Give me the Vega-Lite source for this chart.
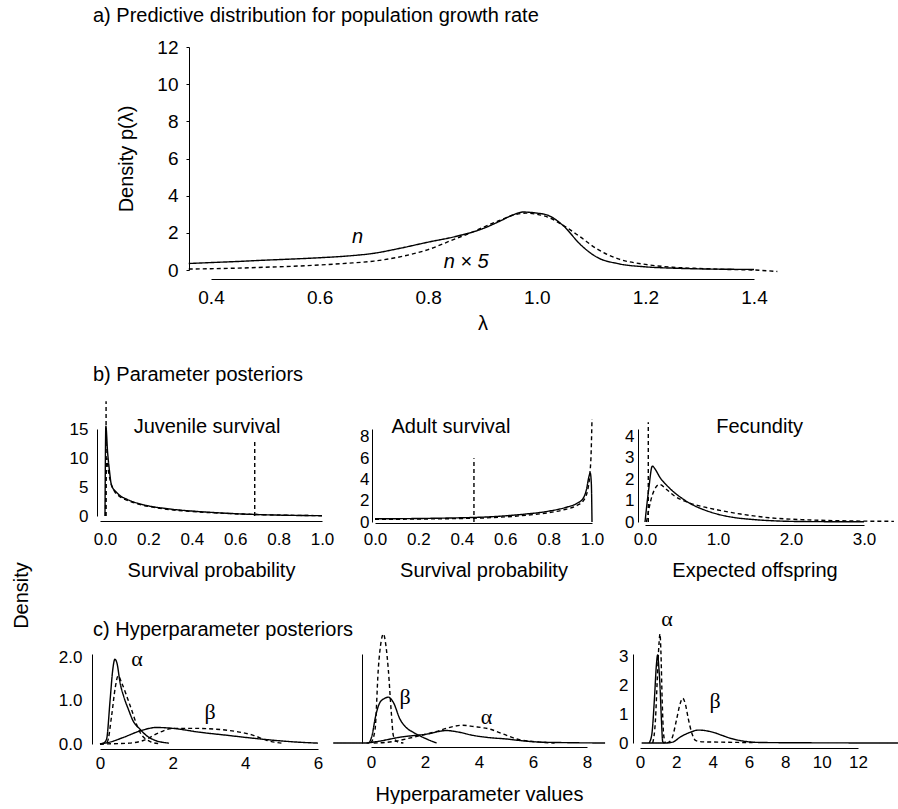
{
 "$schema": "https://vega.github.io/schema/vega-lite/v6.json",
 "autosize": {"type": "pad"},
 "padding": {"left": 11, "top": 6, "right": 0, "bottom": 0},
 "bounds": "flush",
 "spacing": 0,
 "config": {
  "font": "Liberation Sans",
  "view": {"stroke": null},
  "axis": {"domainColor": "#000", "tickColor": "#000", "labelColor": "#000", "titleColor": "#000", "labelFontSize": 17, "titleFontSize": 20, "titleFontWeight": "normal", "labelFlush": false, "labelOverlap": false, "grid": false, "ticks": false, "domainWidth": 1},
  "title": {"fontSize": 20, "fontWeight": "normal", "color": "#000", "anchor": "start", "frame": "group"},
  "text": {"color": "#000"}
 },
 "vconcat": [
  {
   "bounds": "flush",
   "spacing": 110,
   "hconcat": [
    {"width": 1, "height": 1, "data": {"values": []}, "mark": {"type": "point", "opacity": 0}},
    {
     "width": 543, "height": 223,
     "title": {"text": "a) Predictive distribution for population growth rate", "dx": -118, "offset": 12},
     "layer": [
      {
       "data": {"values": [
        {"x": 0.359, "y": 0.35, "s": "solid", "c": "n"}, {"x": 0.4, "y": 0.4, "s": "solid", "c": "n"}, {"x": 0.45, "y": 0.46, "s": "solid", "c": "n"}, {"x": 0.5, "y": 0.53, "s": "solid", "c": "n"}, {"x": 0.55, "y": 0.59, "s": "solid", "c": "n"}, {"x": 0.6, "y": 0.66, "s": "solid", "c": "n"}, {"x": 0.65, "y": 0.75, "s": "solid", "c": "n"}, {"x": 0.7, "y": 0.9, "s": "solid", "c": "n"}, {"x": 0.75, "y": 1.18, "s": "solid", "c": "n"}, {"x": 0.8, "y": 1.5, "s": "solid", "c": "n"}, {"x": 0.85, "y": 1.8, "s": "solid", "c": "n"}, {"x": 0.9, "y": 2.22, "s": "solid", "c": "n"}, {"x": 0.93, "y": 2.6, "s": "solid", "c": "n"}, {"x": 0.955, "y": 2.95, "s": "solid", "c": "n"}, {"x": 0.975, "y": 3.12, "s": "solid", "c": "n"}, {"x": 1.0, "y": 3.06, "s": "solid", "c": "n"}, {"x": 1.02, "y": 2.95, "s": "solid", "c": "n"}, {"x": 1.05, "y": 2.35, "s": "solid", "c": "n"}, {"x": 1.08, "y": 1.38, "s": "solid", "c": "n"}, {"x": 1.11, "y": 0.7, "s": "solid", "c": "n"}, {"x": 1.15, "y": 0.34, "s": "solid", "c": "n"}, {"x": 1.2, "y": 0.17, "s": "solid", "c": "n"}, {"x": 1.25, "y": 0.1, "s": "solid", "c": "n"}, {"x": 1.3, "y": 0.06, "s": "solid", "c": "n"}, {"x": 1.35, "y": 0.04, "s": "solid", "c": "n"}, {"x": 1.4, "y": 0.03, "s": "solid", "c": "n"},
        {"x": 0.359, "y": 0.05, "s": "dashed", "c": "n5"}, {"x": 0.4, "y": 0.07, "s": "dashed", "c": "n5"}, {"x": 0.45, "y": 0.1, "s": "dashed", "c": "n5"}, {"x": 0.5, "y": 0.15, "s": "dashed", "c": "n5"}, {"x": 0.55, "y": 0.2, "s": "dashed", "c": "n5"}, {"x": 0.6, "y": 0.27, "s": "dashed", "c": "n5"}, {"x": 0.65, "y": 0.36, "s": "dashed", "c": "n5"}, {"x": 0.7, "y": 0.48, "s": "dashed", "c": "n5"}, {"x": 0.75, "y": 0.72, "s": "dashed", "c": "n5"}, {"x": 0.8, "y": 1.1, "s": "dashed", "c": "n5"}, {"x": 0.85, "y": 1.68, "s": "dashed", "c": "n5"}, {"x": 0.88, "y": 2.02, "s": "dashed", "c": "n5"}, {"x": 0.9, "y": 2.28, "s": "dashed", "c": "n5"}, {"x": 0.93, "y": 2.65, "s": "dashed", "c": "n5"}, {"x": 0.96, "y": 2.98, "s": "dashed", "c": "n5"}, {"x": 0.98, "y": 3.06, "s": "dashed", "c": "n5"}, {"x": 1.0, "y": 3.0, "s": "dashed", "c": "n5"}, {"x": 1.02, "y": 2.85, "s": "dashed", "c": "n5"}, {"x": 1.05, "y": 2.38, "s": "dashed", "c": "n5"}, {"x": 1.08, "y": 1.78, "s": "dashed", "c": "n5"}, {"x": 1.11, "y": 1.15, "s": "dashed", "c": "n5"}, {"x": 1.15, "y": 0.6, "s": "dashed", "c": "n5"}, {"x": 1.2, "y": 0.3, "s": "dashed", "c": "n5"}, {"x": 1.25, "y": 0.15, "s": "dashed", "c": "n5"}, {"x": 1.3, "y": 0.08, "s": "dashed", "c": "n5"}, {"x": 1.35, "y": 0.03, "s": "dashed", "c": "n5"}, {"x": 1.4, "y": 0.0, "s": "dashed", "c": "n5"}, {"x": 1.443, "y": -0.08, "s": "dashed", "c": "n5"}
       ]},
       "mark": {"type": "line", "interpolate": "monotone", "strokeWidth": 1.4, "color": "#000"},
       "encoding": {
        "x": {"field": "x", "type": "quantitative", "scale": {"domain": [0.4, 1.4], "nice": false, "zero": false}, "axis": {"title": "λ", "values": [0.4, 0.6, 0.8, 1.0, 1.2, 1.4], "tickCount": 20, "format": ".1f", "offset": 9, "labelPadding": 9, "labelFontSize": 19, "titlePadding": 6}},
        "y": {"field": "y", "type": "quantitative", "scale": {"domain": [0, 12], "nice": false}, "axis": {"title": "Density p(λ)", "values": [0, 2, 4, 6, 8, 10, 12], "tickCount": 20, "format": "d", "offset": 22, "ticks": true, "tickSize": 3, "labelPadding": 8, "labelFontSize": 19, "titlePadding": 20}},
        "strokeDash": {"field": "s", "type": "nominal", "scale": {"domain": ["solid", "dashed"], "range": [[1, 0], [4, 3]]}, "legend": null},
        "detail": {"field": "c"}
       }
      },
      {
       "data": {"values": [{"x": 0.67, "y": 1.8, "t": "n"}, {"x": 0.87, "y": 0.45, "t": "n × 5"}]},
       "mark": {"type": "text", "fontSize": 20, "fontStyle": "italic"},
       "encoding": {"x": {"field": "x", "type": "quantitative"}, "y": {"field": "y", "type": "quantitative"}, "text": {"field": "t"}}
      }
     ]
    }
   ]
  },
  {"width": 1, "height": 382, "data": {"values": []}, "mark": {"type": "point", "opacity": 0}},
  {
   "bounds": "flush",
   "spacing": 53,
   "hconcat": [
    {
     "width": 222, "height": 87,
     "title": {"text": "b) Parameter posteriors", "dx": -7, "offset": 15},
     "layer": [
      {
       "data": {"values": [
        {"x": 0, "y": 0, "s": "solid", "c": "s"}, {"x": 0.004, "y": 15.5, "s": "solid", "c": "s"}, {"x": 0.012, "y": 11, "s": "solid", "c": "s"}, {"x": 0.02, "y": 8, "s": "solid", "c": "s"}, {"x": 0.03, "y": 5.3, "s": "solid", "c": "s"}, {"x": 0.05, "y": 4.2, "s": "solid", "c": "s"}, {"x": 0.07, "y": 3.5, "s": "solid", "c": "s"}, {"x": 0.1, "y": 2.9, "s": "solid", "c": "s"}, {"x": 0.15, "y": 2.2, "s": "solid", "c": "s"}, {"x": 0.2, "y": 1.75, "s": "solid", "c": "s"}, {"x": 0.3, "y": 1.2, "s": "solid", "c": "s"}, {"x": 0.4, "y": 0.85, "s": "solid", "c": "s"}, {"x": 0.5, "y": 0.6, "s": "solid", "c": "s"}, {"x": 0.6, "y": 0.4, "s": "solid", "c": "s"}, {"x": 0.7, "y": 0.25, "s": "solid", "c": "s"}, {"x": 0.8, "y": 0.15, "s": "solid", "c": "s"}, {"x": 0.9, "y": 0.09, "s": "solid", "c": "s"}, {"x": 1.0, "y": 0.05, "s": "solid", "c": "s"},
        {"x": 0.002, "y": 0, "s": "dashed", "c": "d"}, {"x": 0.008, "y": 10, "s": "dashed", "c": "d"}, {"x": 0.015, "y": 8, "s": "dashed", "c": "d"}, {"x": 0.025, "y": 6, "s": "dashed", "c": "d"}, {"x": 0.04, "y": 4.5, "s": "dashed", "c": "d"}, {"x": 0.07, "y": 3.3, "s": "dashed", "c": "d"}, {"x": 0.1, "y": 2.75, "s": "dashed", "c": "d"}, {"x": 0.15, "y": 2.1, "s": "dashed", "c": "d"}, {"x": 0.2, "y": 1.65, "s": "dashed", "c": "d"}, {"x": 0.3, "y": 1.1, "s": "dashed", "c": "d"}, {"x": 0.4, "y": 0.78, "s": "dashed", "c": "d"}, {"x": 0.5, "y": 0.55, "s": "dashed", "c": "d"}, {"x": 0.6, "y": 0.38, "s": "dashed", "c": "d"}, {"x": 0.7, "y": 0.25, "s": "dashed", "c": "d"}, {"x": 0.8, "y": 0.17, "s": "dashed", "c": "d"}, {"x": 0.9, "y": 0.1, "s": "dashed", "c": "d"}, {"x": 1.0, "y": 0.06, "s": "dashed", "c": "d"}
       ]},
       "mark": {"type": "line", "interpolate": "monotone", "strokeWidth": 1.4, "color": "#000"},
       "encoding": {
        "x": {"field": "x", "type": "quantitative", "scale": {"domain": [-0.023, 1], "nice": false, "zero": false}, "axis": {"title": "Survival probability", "values": [0, 0.2, 0.4, 0.6, 0.8, 1.0], "tickCount": 20, "format": ".1f", "offset": 5, "labelPadding": 10, "titlePadding": 13}},
        "y": {"field": "y", "type": "quantitative", "scale": {"domain": [0, 15], "nice": false}, "axis": {"title": "Density", "titleX": -66, "titleY": 166, "titleAngle": 270, "titleAlign": "center", "titleBaseline": "bottom", "values": [0, 5, 10, 15], "tickCount": 20, "format": "d", "offset": 3, "labelPadding": 9}},
        "strokeDash": {"field": "s", "type": "nominal", "scale": {"domain": ["solid", "dashed"], "range": [[1, 0], [4, 3]]}, "legend": null},
        "detail": {"field": "c"}
       }
      },
      {
       "data": {"values": [{"x": 0.005, "y": 0, "y2": 19.8}, {"x": 0.69, "y": 0, "y2": 12.9}]},
       "mark": {"type": "rule", "strokeDash": [4, 3], "strokeWidth": 1.4, "color": "#000"},
       "encoding": {"x": {"field": "x", "type": "quantitative"}, "y": {"field": "y", "type": "quantitative"}, "y2": {"field": "y2"}}
      },
      {
       "data": {"values": [{"x": 0.47, "y": 15.3, "t": "Juvenile survival"}]},
       "mark": {"type": "text", "fontSize": 20},
       "encoding": {"x": {"field": "x", "type": "quantitative"}, "y": {"field": "y", "type": "quantitative"}, "text": {"field": "t"}}
      }
     ]
    },
    {
     "width": 217, "height": 93,
     "layer": [
      {
       "data": {"values": [
        {"x": 0, "y": 0.3, "s": "solid", "c": "s"}, {"x": 0.1, "y": 0.31, "s": "solid", "c": "s"}, {"x": 0.2, "y": 0.33, "s": "solid", "c": "s"}, {"x": 0.3, "y": 0.36, "s": "solid", "c": "s"}, {"x": 0.4, "y": 0.4, "s": "solid", "c": "s"}, {"x": 0.5, "y": 0.46, "s": "solid", "c": "s"}, {"x": 0.6, "y": 0.58, "s": "solid", "c": "s"}, {"x": 0.7, "y": 0.76, "s": "solid", "c": "s"}, {"x": 0.8, "y": 1.02, "s": "solid", "c": "s"}, {"x": 0.88, "y": 1.38, "s": "solid", "c": "s"}, {"x": 0.93, "y": 1.75, "s": "solid", "c": "s"}, {"x": 0.96, "y": 2.25, "s": "solid", "c": "s"}, {"x": 0.975, "y": 3.1, "s": "solid", "c": "s"}, {"x": 0.985, "y": 4.2, "s": "solid", "c": "s"}, {"x": 0.992, "y": 4.6, "s": "solid", "c": "s"}, {"x": 0.997, "y": 3.6, "s": "solid", "c": "s"}, {"x": 1.0, "y": 0.0, "s": "solid", "c": "s"},
        {"x": 0, "y": 0.25, "s": "dashed", "c": "d"}, {"x": 0.1, "y": 0.26, "s": "dashed", "c": "d"}, {"x": 0.2, "y": 0.28, "s": "dashed", "c": "d"}, {"x": 0.3, "y": 0.3, "s": "dashed", "c": "d"}, {"x": 0.4, "y": 0.33, "s": "dashed", "c": "d"}, {"x": 0.5, "y": 0.38, "s": "dashed", "c": "d"}, {"x": 0.6, "y": 0.48, "s": "dashed", "c": "d"}, {"x": 0.7, "y": 0.64, "s": "dashed", "c": "d"}, {"x": 0.8, "y": 0.88, "s": "dashed", "c": "d"}, {"x": 0.88, "y": 1.2, "s": "dashed", "c": "d"}, {"x": 0.93, "y": 1.55, "s": "dashed", "c": "d"}, {"x": 0.96, "y": 2.0, "s": "dashed", "c": "d"}, {"x": 0.98, "y": 3.0, "s": "dashed", "c": "d"}, {"x": 0.99, "y": 4.5, "s": "dashed", "c": "d"}, {"x": 0.996, "y": 6.5, "s": "dashed", "c": "d"}, {"x": 1.0, "y": 9.7, "s": "dashed", "c": "d"}
       ]},
       "mark": {"type": "line", "interpolate": "monotone", "strokeWidth": 1.4, "color": "#000"},
       "encoding": {
        "x": {"field": "x", "type": "quantitative", "scale": {"domain": [0, 1], "nice": false, "zero": false}, "axis": {"title": "Survival probability", "values": [0, 0.2, 0.4, 0.6, 0.8, 1.0], "tickCount": 20, "format": ".1f", "offset": 1, "labelPadding": 8, "titlePadding": 13}},
        "y": {"field": "y", "type": "quantitative", "scale": {"domain": [0, 8.75], "nice": false}, "axis": {"title": null, "values": [0, 2, 4, 6, 8], "tickCount": 20, "format": "d", "offset": 3, "labelPadding": 3}},
        "strokeDash": {"field": "s", "type": "nominal", "scale": {"domain": ["solid", "dashed"], "range": [[1, 0], [4, 3]]}, "legend": null},
        "detail": {"field": "c"}
       }
      },
      {
       "data": {"values": [{"x": 0.456, "y": 0, "y2": 6.0}]},
       "mark": {"type": "rule", "strokeDash": [4, 3], "strokeWidth": 1.4, "color": "#000"},
       "encoding": {"x": {"field": "x", "type": "quantitative"}, "y": {"field": "y", "type": "quantitative"}, "y2": {"field": "y2"}}
      },
      {
       "data": {"values": [{"x": 0.35, "y": 8.96, "t": "Adult survival"}]},
       "mark": {"type": "text", "fontSize": 20},
       "encoding": {"x": {"field": "x", "type": "quantitative"}, "y": {"field": "y", "type": "quantitative"}, "text": {"field": "t"}}
      }
     ]
    },
    {
     "width": 219, "height": 93,
     "layer": [
      {
       "data": {"values": [
        {"x": 0, "y": 0, "s": "solid", "c": "s"}, {"x": 0.05, "y": 1.5, "s": "solid", "c": "s"}, {"x": 0.1, "y": 2.6, "s": "solid", "c": "s"}, {"x": 0.15, "y": 2.4, "s": "solid", "c": "s"}, {"x": 0.2, "y": 2.1, "s": "solid", "c": "s"}, {"x": 0.3, "y": 1.7, "s": "solid", "c": "s"}, {"x": 0.4, "y": 1.38, "s": "solid", "c": "s"}, {"x": 0.5, "y": 1.12, "s": "solid", "c": "s"}, {"x": 0.6, "y": 0.9, "s": "solid", "c": "s"}, {"x": 0.7, "y": 0.72, "s": "solid", "c": "s"}, {"x": 0.8, "y": 0.58, "s": "solid", "c": "s"}, {"x": 1.0, "y": 0.36, "s": "solid", "c": "s"}, {"x": 1.2, "y": 0.22, "s": "solid", "c": "s"}, {"x": 1.5, "y": 0.11, "s": "solid", "c": "s"}, {"x": 1.8, "y": 0.05, "s": "solid", "c": "s"}, {"x": 2.2, "y": 0.02, "s": "solid", "c": "s"}, {"x": 3.0, "y": 0.01, "s": "solid", "c": "s"},
        {"x": 0.02, "y": 0, "s": "dashed", "c": "d"}, {"x": 0.1, "y": 1.25, "s": "dashed", "c": "d"}, {"x": 0.2, "y": 1.75, "s": "dashed", "c": "d"}, {"x": 0.3, "y": 1.5, "s": "dashed", "c": "d"}, {"x": 0.4, "y": 1.22, "s": "dashed", "c": "d"}, {"x": 0.6, "y": 0.9, "s": "dashed", "c": "d"}, {"x": 0.86, "y": 0.66, "s": "dashed", "c": "d"}, {"x": 1.0, "y": 0.56, "s": "dashed", "c": "d"}, {"x": 1.31, "y": 0.37, "s": "dashed", "c": "d"}, {"x": 1.7, "y": 0.2, "s": "dashed", "c": "d"}, {"x": 2.23, "y": 0.1, "s": "dashed", "c": "d"}, {"x": 2.8, "y": 0.05, "s": "dashed", "c": "d"}, {"x": 3.41, "y": 0.03, "s": "dashed", "c": "d"}
       ]},
       "mark": {"type": "line", "interpolate": "monotone", "strokeWidth": 1.4, "color": "#000"},
       "encoding": {
        "x": {"field": "x", "type": "quantitative", "scale": {"domain": [0, 3], "nice": false, "zero": false}, "axis": {"title": "Expected offspring", "values": [0, 1, 2, 3], "tickCount": 20, "format": ".1f", "offset": 3, "labelPadding": 6, "titlePadding": 13}},
        "y": {"field": "y", "type": "quantitative", "scale": {"domain": [0, 4.33], "nice": false}, "axis": {"title": null, "values": [0, 1, 2, 3, 4], "tickCount": 20, "format": "d", "offset": 7, "labelPadding": 4}},
        "strokeDash": {"field": "s", "type": "nominal", "scale": {"domain": ["solid", "dashed"], "range": [[1, 0], [4, 3]]}, "legend": null},
        "detail": {"field": "c"}
       }
      },
      {
       "data": {"values": [{"x": 0.045, "y": 0, "y2": 4.64}]},
       "mark": {"type": "rule", "strokeDash": [4, 3], "strokeWidth": 1.4, "color": "#000"},
       "encoding": {"x": {"field": "x", "type": "quantitative"}, "y": {"field": "y", "type": "quantitative"}, "y2": {"field": "y2"}}
      },
      {
       "data": {"values": [{"x": 1.57, "y": 4.42, "t": "Fecundity"}]},
       "mark": {"type": "text", "fontSize": 20},
       "encoding": {"x": {"field": "x", "type": "quantitative"}, "y": {"field": "y", "type": "quantitative"}, "text": {"field": "t"}}
      }
     ]
    }
   ]
  },
  {"width": 1, "height": 225, "data": {"values": []}, "mark": {"type": "point", "opacity": 0}},
  {
   "bounds": "flush",
   "spacing": 53,
   "hconcat": [
    {
     "width": 218, "height": 90,
     "title": {"text": "c) Hyperparameter posteriors", "dx": -7, "offset": 8},
     "layer": [
      {
       "data": {"values": [
        {"x": 0, "y": 0, "s": "solid", "c": "as"}, {"x": 0.1, "y": 0.02, "s": "solid", "c": "as"}, {"x": 0.18, "y": 0.11, "s": "solid", "c": "as"}, {"x": 0.28, "y": 1.03, "s": "solid", "c": "as"}, {"x": 0.35, "y": 1.7, "s": "solid", "c": "as"}, {"x": 0.41, "y": 1.95, "s": "solid", "c": "as"}, {"x": 0.47, "y": 1.85, "s": "solid", "c": "as"}, {"x": 0.55, "y": 1.42, "s": "solid", "c": "as"}, {"x": 0.65, "y": 1.1, "s": "solid", "c": "as"}, {"x": 0.78, "y": 0.8, "s": "solid", "c": "as"}, {"x": 0.9, "y": 0.55, "s": "solid", "c": "as"}, {"x": 1.1, "y": 0.34, "s": "solid", "c": "as"}, {"x": 1.3, "y": 0.18, "s": "solid", "c": "as"}, {"x": 1.5, "y": 0.09, "s": "solid", "c": "as"}, {"x": 1.9, "y": 0.02, "s": "solid", "c": "as"},
        {"x": 0, "y": 0, "s": "dashed", "c": "ad"}, {"x": 0.2, "y": 0.05, "s": "dashed", "c": "ad"}, {"x": 0.32, "y": 0.65, "s": "dashed", "c": "ad"}, {"x": 0.42, "y": 1.3, "s": "dashed", "c": "ad"}, {"x": 0.5, "y": 1.57, "s": "dashed", "c": "ad"}, {"x": 0.6, "y": 1.4, "s": "dashed", "c": "ad"}, {"x": 0.83, "y": 0.88, "s": "dashed", "c": "ad"}, {"x": 1.1, "y": 0.27, "s": "dashed", "c": "ad"}, {"x": 1.4, "y": 0.05, "s": "dashed", "c": "ad"}, {"x": 1.6, "y": 0.01, "s": "dashed", "c": "ad"},
        {"x": 0, "y": 0, "s": "solid", "c": "bs"}, {"x": 0.3, "y": 0.05, "s": "solid", "c": "bs"}, {"x": 0.64, "y": 0.15, "s": "solid", "c": "bs"}, {"x": 1.1, "y": 0.3, "s": "solid", "c": "bs"}, {"x": 1.56, "y": 0.38, "s": "solid", "c": "bs"}, {"x": 2.0, "y": 0.36, "s": "solid", "c": "bs"}, {"x": 2.75, "y": 0.27, "s": "solid", "c": "bs"}, {"x": 3.5, "y": 0.2, "s": "solid", "c": "bs"}, {"x": 4.13, "y": 0.14, "s": "solid", "c": "bs"}, {"x": 5.0, "y": 0.07, "s": "solid", "c": "bs"}, {"x": 5.5, "y": 0.04, "s": "solid", "c": "bs"}, {"x": 6.0, "y": 0.02, "s": "solid", "c": "bs"},
        {"x": 0, "y": 0, "s": "dashed", "c": "bd"}, {"x": 0.8, "y": 0.02, "s": "dashed", "c": "bd"}, {"x": 1.19, "y": 0.08, "s": "dashed", "c": "bd"}, {"x": 1.65, "y": 0.27, "s": "dashed", "c": "bd"}, {"x": 2.02, "y": 0.36, "s": "dashed", "c": "bd"}, {"x": 2.6, "y": 0.36, "s": "dashed", "c": "bd"}, {"x": 3.2, "y": 0.34, "s": "dashed", "c": "bd"}, {"x": 3.8, "y": 0.28, "s": "dashed", "c": "bd"}, {"x": 4.22, "y": 0.2, "s": "dashed", "c": "bd"}, {"x": 4.6, "y": 0.08, "s": "dashed", "c": "bd"}, {"x": 5.0, "y": 0.02, "s": "dashed", "c": "bd"}
       ]},
       "mark": {"type": "line", "interpolate": "monotone", "strokeWidth": 1.4, "color": "#000"},
       "encoding": {
        "x": {"field": "x", "type": "quantitative", "scale": {"domain": [0, 6], "nice": false, "zero": false}, "axis": {"title": null, "values": [0, 2, 4, 6], "tickCount": 20, "format": "d", "offset": 5, "labelPadding": 6}},
        "y": {"field": "y", "type": "quantitative", "scale": {"domain": [0, 2.07], "nice": false}, "axis": {"title": null, "values": [0, 1, 2], "tickCount": 20, "format": ".1f", "offset": 8, "labelPadding": 10}},
        "strokeDash": {"field": "s", "type": "nominal", "scale": {"domain": ["solid", "dashed"], "range": [[1, 0], [4, 3]]}, "legend": null},
        "detail": {"field": "c"}
       }
      },
      {
       "data": {"values": [{"x": 1.02, "y": 1.95, "t": "α"}, {"x": 3.03, "y": 0.74, "t": "β"}]},
       "mark": {"type": "text", "fontSize": 22, "font": "Liberation Serif"},
       "encoding": {"x": {"field": "x", "type": "quantitative"}, "y": {"field": "y", "type": "quantitative"}, "text": {"field": "t"}}
      }
     ]
    },
    {
     "width": 216, "height": 89,
     "layer": [
      {
       "data": {"values": [
        {"x": 0, "y": 0, "s": "dashed", "c": "bd"}, {"x": 0.15, "y": 0.3, "s": "dashed", "c": "bd"}, {"x": 0.27, "y": 1.66, "s": "dashed", "c": "bd"}, {"x": 0.38, "y": 2.3, "s": "dashed", "c": "bd"}, {"x": 0.46, "y": 2.45, "s": "dashed", "c": "bd"}, {"x": 0.55, "y": 2.2, "s": "dashed", "c": "bd"}, {"x": 0.64, "y": 1.66, "s": "dashed", "c": "bd"}, {"x": 0.75, "y": 0.7, "s": "dashed", "c": "bd"}, {"x": 0.83, "y": 0.16, "s": "dashed", "c": "bd"}, {"x": 1.0, "y": 0.02, "s": "dashed", "c": "bd"}, {"x": 1.2, "y": 0, "s": "dashed", "c": "bd"},
        {"x": -1.4, "y": 0, "s": "solid", "c": "bs"}, {"x": -0.1, "y": 0, "s": "solid", "c": "bs"}, {"x": 0.05, "y": 0.2, "s": "solid", "c": "bs"}, {"x": 0.15, "y": 0.54, "s": "solid", "c": "bs"}, {"x": 0.33, "y": 0.91, "s": "solid", "c": "bs"}, {"x": 0.5, "y": 1.0, "s": "solid", "c": "bs"}, {"x": 0.64, "y": 1.03, "s": "solid", "c": "bs"}, {"x": 0.83, "y": 0.91, "s": "solid", "c": "bs"}, {"x": 1.07, "y": 0.54, "s": "solid", "c": "bs"}, {"x": 1.3, "y": 0.35, "s": "solid", "c": "bs"}, {"x": 1.57, "y": 0.24, "s": "solid", "c": "bs"}, {"x": 2.06, "y": 0.09, "s": "solid", "c": "bs"}, {"x": 2.43, "y": 0.0, "s": "solid", "c": "bs"},
        {"x": -0.16, "y": 0, "s": "solid", "c": "as"}, {"x": 0.3, "y": 0.04, "s": "solid", "c": "as"}, {"x": 1.07, "y": 0.13, "s": "solid", "c": "as"}, {"x": 2.06, "y": 0.2, "s": "solid", "c": "as"}, {"x": 2.8, "y": 0.28, "s": "solid", "c": "as"}, {"x": 3.2, "y": 0.25, "s": "solid", "c": "as"}, {"x": 3.79, "y": 0.17, "s": "solid", "c": "as"}, {"x": 4.4, "y": 0.12, "s": "solid", "c": "as"}, {"x": 5.02, "y": 0.09, "s": "solid", "c": "as"}, {"x": 5.6, "y": 0.05, "s": "solid", "c": "as"}, {"x": 6.26, "y": 0.02, "s": "solid", "c": "as"}, {"x": 7.0, "y": 0.01, "s": "solid", "c": "as"}, {"x": 8.67, "y": 0, "s": "solid", "c": "as"},
        {"x": 0.1, "y": 0, "s": "dashed", "c": "ad"}, {"x": 0.8, "y": 0.03, "s": "dashed", "c": "ad"}, {"x": 1.57, "y": 0.13, "s": "dashed", "c": "ad"}, {"x": 2.31, "y": 0.24, "s": "dashed", "c": "ad"}, {"x": 3.05, "y": 0.37, "s": "dashed", "c": "ad"}, {"x": 3.36, "y": 0.4, "s": "dashed", "c": "ad"}, {"x": 3.8, "y": 0.37, "s": "dashed", "c": "ad"}, {"x": 4.41, "y": 0.31, "s": "dashed", "c": "ad"}, {"x": 4.9, "y": 0.2, "s": "dashed", "c": "ad"}, {"x": 5.4, "y": 0.09, "s": "dashed", "c": "ad"}, {"x": 6.26, "y": 0.02, "s": "dashed", "c": "ad"}, {"x": 6.8, "y": 0, "s": "dashed", "c": "ad"}
       ]},
       "mark": {"type": "line", "interpolate": "monotone", "strokeWidth": 1.4, "color": "#000"},
       "encoding": {
        "x": {"field": "x", "type": "quantitative", "scale": {"domain": [0, 8], "nice": false, "zero": false}, "axis": {"title": "Hyperparameter values", "values": [0, 2, 4, 6, 8], "tickCount": 20, "format": "d", "offset": 4, "labelPadding": 7, "titlePadding": 14}},
        "y": {"field": "y", "type": "quantitative", "scale": {"domain": [0, 2], "nice": false}, "axis": {"title": null, "labels": false, "offset": 9}},
        "strokeDash": {"field": "s", "type": "nominal", "scale": {"domain": ["solid", "dashed"], "range": [[1, 0], [4, 3]]}, "legend": null},
        "detail": {"field": "c"}
       }
      },
      {
       "data": {"values": [{"x": 1.26, "y": 1.03, "t": "β"}, {"x": 4.28, "y": 0.58, "t": "α"}]},
       "mark": {"type": "text", "fontSize": 22, "font": "Liberation Serif"},
       "encoding": {"x": {"field": "x", "type": "quantitative"}, "y": {"field": "y", "type": "quantitative"}, "text": {"field": "t"}}
      }
     ]
    },
    {
     "width": 218, "height": 89,
     "layer": [
      {
       "data": {"values": [
        {"x": 0.5, "y": 0, "s": "solid", "c": "as"}, {"x": 0.65, "y": 0.3, "s": "solid", "c": "as"}, {"x": 0.8, "y": 1.6, "s": "solid", "c": "as"}, {"x": 0.9, "y": 2.7, "s": "solid", "c": "as"}, {"x": 0.97, "y": 3.07, "s": "solid", "c": "as"}, {"x": 1.03, "y": 2.7, "s": "solid", "c": "as"}, {"x": 1.1, "y": 2.0, "s": "solid", "c": "as"}, {"x": 1.18, "y": 0.8, "s": "solid", "c": "as"}, {"x": 1.25, "y": 0.05, "s": "solid", "c": "as"}, {"x": 1.35, "y": 0, "s": "solid", "c": "as"},
        {"x": 0.7, "y": 0, "s": "dashed", "c": "ad"}, {"x": 0.85, "y": 0.8, "s": "dashed", "c": "ad"}, {"x": 0.95, "y": 2.2, "s": "dashed", "c": "ad"}, {"x": 1.05, "y": 3.5, "s": "dashed", "c": "ad"}, {"x": 1.1, "y": 3.8, "s": "dashed", "c": "ad"}, {"x": 1.15, "y": 3.2, "s": "dashed", "c": "ad"}, {"x": 1.22, "y": 1.5, "s": "dashed", "c": "ad"}, {"x": 1.3, "y": 0.3, "s": "dashed", "c": "ad"}, {"x": 1.4, "y": 0, "s": "dashed", "c": "ad"},
        {"x": 1.5, "y": 0, "s": "dashed", "c": "bd"}, {"x": 1.75, "y": 0.15, "s": "dashed", "c": "bd"}, {"x": 2.02, "y": 0.84, "s": "dashed", "c": "bd"}, {"x": 2.2, "y": 1.35, "s": "dashed", "c": "bd"}, {"x": 2.35, "y": 1.56, "s": "dashed", "c": "bd"}, {"x": 2.5, "y": 1.35, "s": "dashed", "c": "bd"}, {"x": 2.66, "y": 0.84, "s": "dashed", "c": "bd"}, {"x": 2.85, "y": 0.35, "s": "dashed", "c": "bd"}, {"x": 3.08, "y": 0.08, "s": "dashed", "c": "bd"}, {"x": 3.5, "y": 0.04, "s": "dashed", "c": "bd"}, {"x": 4.5, "y": 0.03, "s": "dashed", "c": "bd"}, {"x": 5.5, "y": 0.02, "s": "dashed", "c": "bd"}, {"x": 6.2, "y": 0.02, "s": "dashed", "c": "bd"},
        {"x": 0.09, "y": 0, "s": "solid", "c": "bs"}, {"x": 1.4, "y": 0, "s": "solid", "c": "bs"}, {"x": 1.8, "y": 0.03, "s": "solid", "c": "bs"}, {"x": 2.2, "y": 0.2, "s": "solid", "c": "bs"}, {"x": 2.75, "y": 0.37, "s": "solid", "c": "bs"}, {"x": 3.21, "y": 0.45, "s": "solid", "c": "bs"}, {"x": 3.6, "y": 0.43, "s": "solid", "c": "bs"}, {"x": 4.04, "y": 0.37, "s": "solid", "c": "bs"}, {"x": 4.5, "y": 0.27, "s": "solid", "c": "bs"}, {"x": 4.95, "y": 0.17, "s": "solid", "c": "bs"}, {"x": 5.4, "y": 0.1, "s": "solid", "c": "bs"}, {"x": 5.87, "y": 0.05, "s": "solid", "c": "bs"}, {"x": 6.5, "y": 0.02, "s": "solid", "c": "bs"}, {"x": 8.0, "y": 0.01, "s": "solid", "c": "bs"}, {"x": 14.2, "y": 0, "s": "solid", "c": "bs"}
       ]},
       "mark": {"type": "line", "interpolate": "monotone", "strokeWidth": 1.4, "color": "#000"},
       "encoding": {
        "x": {"field": "x", "type": "quantitative", "scale": {"domain": [0, 12], "nice": false, "zero": false}, "axis": {"title": null, "values": [0, 2, 4, 6, 8, 10, 12], "tickCount": 20, "format": "d", "offset": 5, "labelPadding": 6}},
        "y": {"field": "y", "type": "quantitative", "scale": {"domain": [0, 3.1], "nice": false}, "axis": {"title": null, "values": [0, 1, 2, 3], "tickCount": 20, "format": "d", "offset": 7, "labelPadding": 5}},
        "strokeDash": {"field": "s", "type": "nominal", "scale": {"domain": ["solid", "dashed"], "range": [[1, 0], [4, 3]]}, "legend": null},
        "detail": {"field": "c"}
       }
      },
      {
       "data": {"values": [{"x": 1.49, "y": 4.32, "t": "α"}, {"x": 4.13, "y": 1.46, "t": "β"}]},
       "mark": {"type": "text", "fontSize": 22, "font": "Liberation Serif"},
       "encoding": {"x": {"field": "x", "type": "quantitative"}, "y": {"field": "y", "type": "quantitative"}, "text": {"field": "t"}}
      }
     ]
    }
   ]
  }
 ]
}
